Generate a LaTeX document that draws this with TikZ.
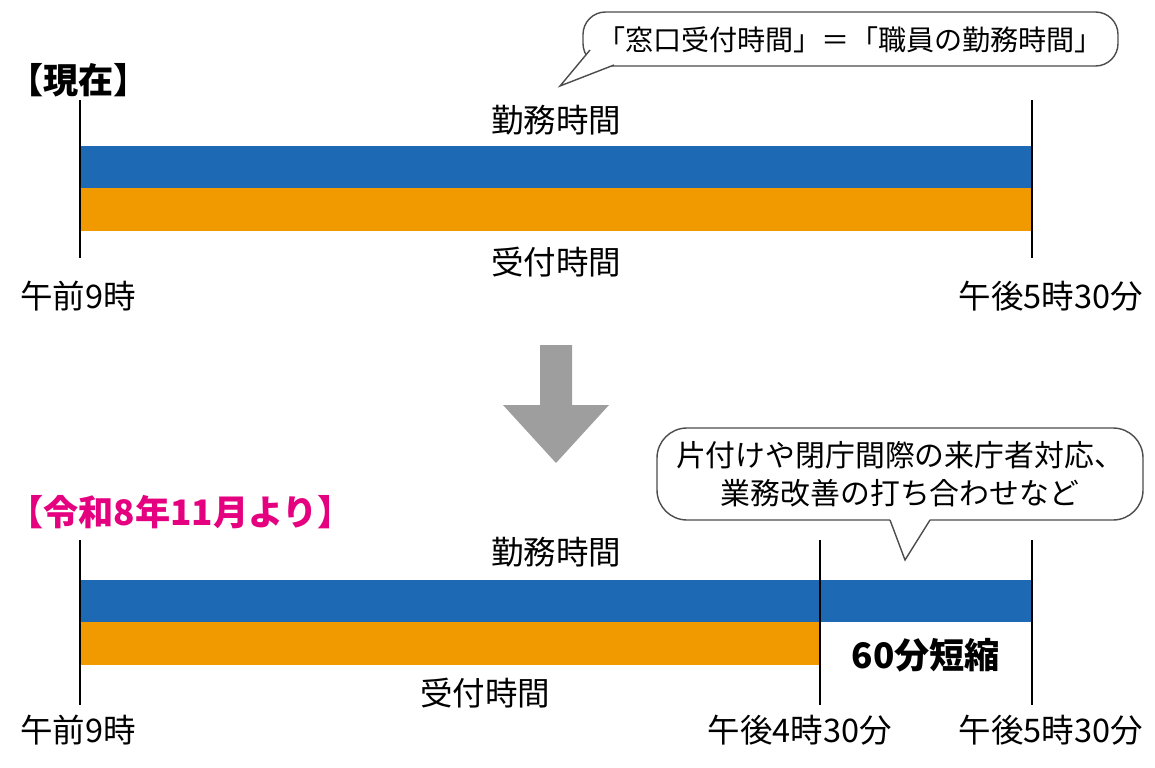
\documentclass[tikz,border=0pt]{standalone}
\usepackage{fontspec}
\setmainfont{Noto Sans CJK JP}
\begin{document}
\begin{tikzpicture}[x=0.02cm,y=-0.02cm,
  txt/.style={font=\fontsize{18.5}{22}\selectfont,inner sep=0pt},
  ctxt/.style={font=\fontsize{17}{21}\selectfont,inner sep=0pt},
  btxt/.style={font=\fontsize{20}{24}\selectfont\bfseries,inner sep=0pt},
  vl/.style={line width=1.6pt,black},
  callout/.style={draw=black!70,line width=0.8pt,fill=white}]
\definecolor{bbar}{RGB}{30,105,180}
\definecolor{obar}{RGB}{240,154,0}
\definecolor{mag}{RGB}{228,0,127}
\useasboundingbox (0,0) rectangle (1155,767);
% top
\node[btxt,anchor=west] (now) at (8,80) {【現在】};
\draw[callout,rounded corners=0.45cm] (583,12) rectangle (1118,66);
\draw[black!70,line width=0.8pt,fill=white] (590,50) -- (560,86) -- (614,65);
\fill[white] (592,53) -- (609,64.5) -- (605,52) -- cycle;
\node[ctxt,font=\fontsize{16}{20}\selectfont] (c1) at (850,40) {「窓口受付時間」＝「職員の勤務時間」};
\fill[bbar] (80,146) rectangle (1032,188);
\fill[obar] (80,188) rectangle (1032,231);
\draw[vl] (80,100) -- (80,258);
\draw[vl] (1032,100) -- (1032,258);
\node[txt] (k1) at (556,120) {勤務時間};
\node[txt] (u1) at (556,262) {受付時間};
\node[txt,anchor=west] (a1) at (20,296) {午前9時};
\node[txt,anchor=east] (b1) at (1143,296) {午後5時30分};
% arrow
\fill[black!38] (540,345) -- (572,345) -- (572,405) -- (609,405) -- (556,463) -- (503,405) -- (540,405) -- cycle;
% bottom
\node[btxt,anchor=west,text=mag] (new) at (8,512) {【令和8年11月より】};
\draw[callout,rounded corners=0.6cm] (657,428) rectangle (1143,520);
\fill[white] (890,518) rectangle (930,523);
\draw[black!70,line width=0.8pt,fill=white] (890,520) -- (905,560) -- (930,520);
\node[ctxt] (c2a) at (900,455) {片付けや閉庁間際の来庁者対応、};
\node[ctxt] (c2b) at (900,493) {業務改善の打ち合わせなど};
\fill[bbar] (80,580) rectangle (1032,622);
\fill[obar] (80,622) rectangle (820,665);
\draw[vl] (80,540) -- (80,705);
\draw[vl] (820,540) -- (820,705);
\draw[vl] (1032,540) -- (1032,705);
\node[txt] (k2) at (556,552) {勤務時間};
\node[txt] (u2) at (485,693) {受付時間};
\node[btxt] (s) at (926,655) {60分短縮};
\node[txt,anchor=west] (a2) at (20,730) {午前9時};
\node[txt] (m2) at (800,730) {午後4時30分};
\node[txt,anchor=east] (b2) at (1143,730) {午後5時30分};
\end{tikzpicture}
\end{document}
